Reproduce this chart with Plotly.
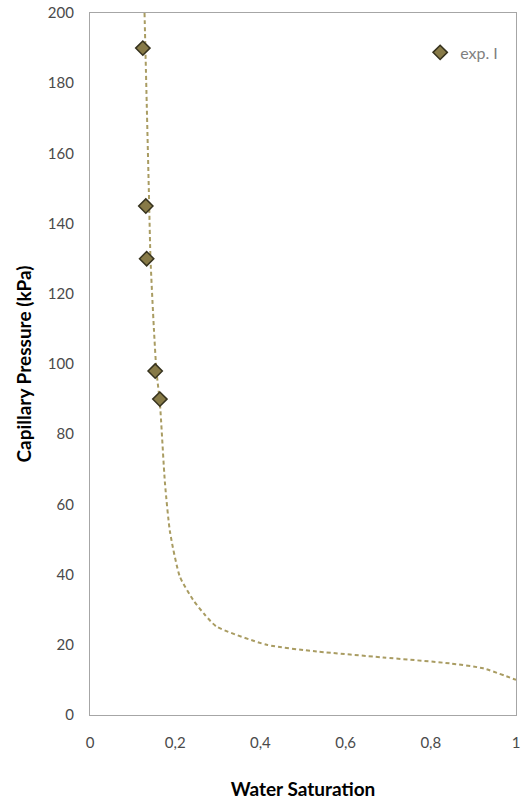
import plotly.graph_objects as go

# Experimental points
exp_sw = [0.124, 0.131, 0.133, 0.153, 0.164]
exp_pc = [190, 145, 130, 98, 90]

# Fitted curve
fit_sw = [0.128, 0.130, 0.139, 0.142, 0.150, 0.156, 0.164, 0.176, 0.188, 0.211, 0.242,
          0.270, 0.297, 0.415, 0.532, 0.688, 0.845, 0.923, 1.0]
fit_pc = [200, 190, 145, 130, 110, 98, 89, 66, 52, 39.4, 32.8,
          28.5, 25.2, 20.0, 18.1, 16.4, 14.7, 13.3, 10.0]

x_ticks = [0, 0.2, 0.4, 0.6, 0.8, 1]
x_labels = ["0", "0,2", "0,4", "0,6", "0,8", "1"]
y_ticks = list(range(0, 201, 20))

font_family = "Lato, Open Sans, sans-serif"

fig = go.Figure()
fig.add_trace(go.Scatter(
    x=fit_sw, y=fit_pc, mode="lines", showlegend=False,
    line=dict(color="#A99C62", width=2, dash="4px,3px", shape="spline", smoothing=0.6),
    hoverinfo="skip",
))
fig.add_trace(go.Scatter(
    x=exp_sw, y=exp_pc, mode="markers", name="exp. I",
    marker=dict(symbol="diamond", size=11, color="#877A47",
                line=dict(color="#36321E", width=1.5)),
))

fig.update_layout(
    width=522, height=803,
    margin=dict(l=90, r=6, t=13, b=88, autoexpand=False),
    paper_bgcolor="white", plot_bgcolor="white",
    separators=", ",
    font=dict(family=font_family, size=15, color="#4A4A4A"),
    showlegend=True,
    legend=dict(x=0.775, y=0.968, xanchor="left", yanchor="top",
                bgcolor="rgba(0,0,0,0)", font=dict(size=16, color="#7F7F7F"),
                itemwidth=30),
    xaxis=dict(range=[0, 1], tickvals=x_ticks, ticktext=x_labels,
               showgrid=False, zeroline=False, showline=True, mirror=True,
               linecolor="#A6A6A6", linewidth=1.3, ticks="",
               ticklabelstandoff=14, ticklabeloverflow="allow", automargin=False,
               title=dict(text="<b>Water Saturation</b>", standoff=32,
                          font=dict(size=19, color="#000000"))),
    yaxis=dict(range=[0, 200], tickvals=y_ticks,
               showgrid=False, zeroline=False, showline=True, mirror=True,
               linecolor="#A6A6A6", linewidth=1.3, ticks="",
               ticklabelstandoff=12, ticklabeloverflow="allow", automargin=False,
               title=dict(text="<b>Capillary Pressure (kPa)</b>", standoff=11,
                          font=dict(size=19, color="#000000"))),
)

fig.write_html("out.html", config={"displayModeBar": False},
               post_script="document.body.style.margin='0';document.body.style.padding='0';")
